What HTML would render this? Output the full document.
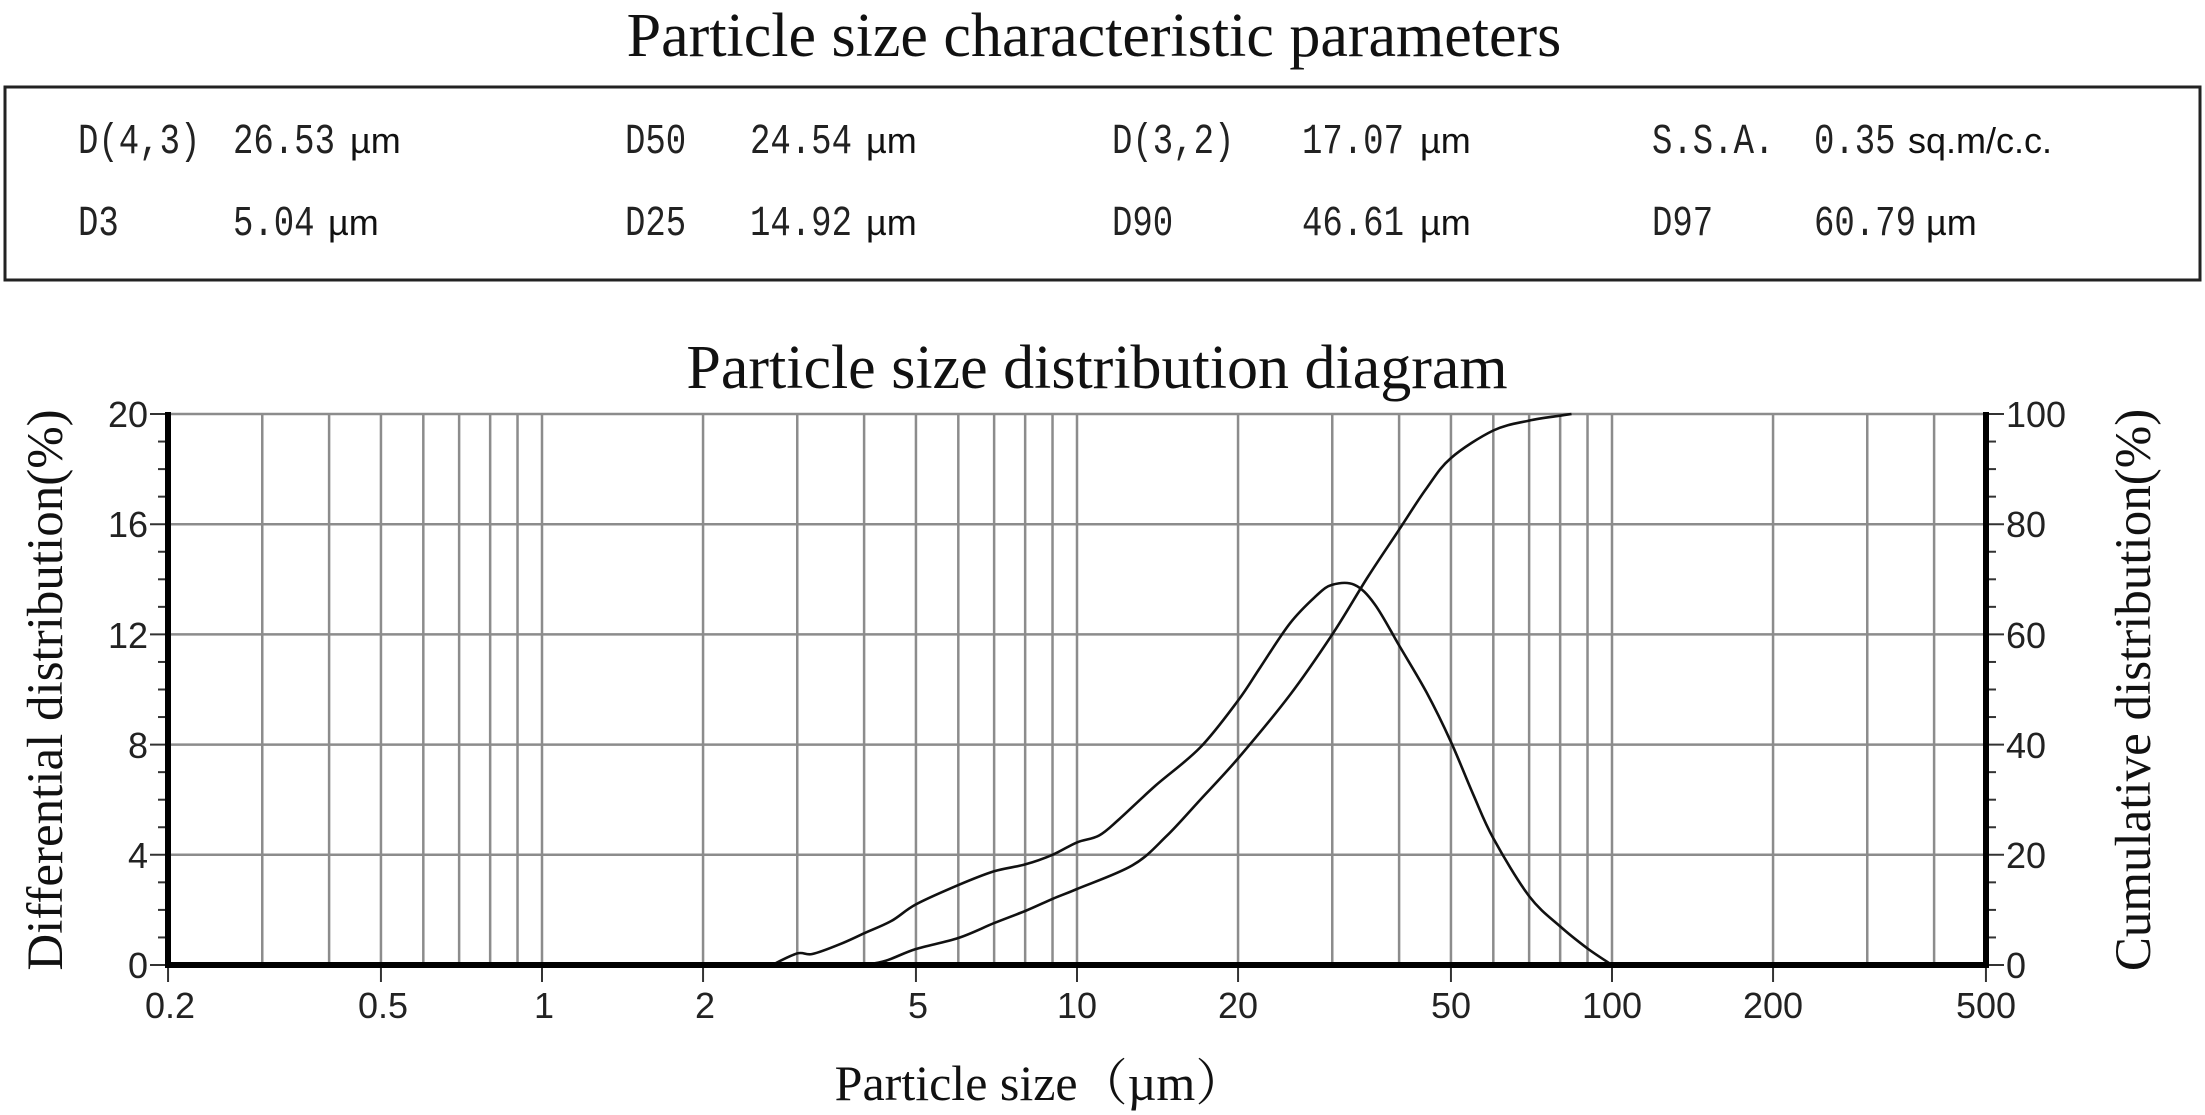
<!DOCTYPE html>
<html><head><meta charset="utf-8">
<style>
html,body{margin:0;padding:0;background:#fff;}
svg{display:block;}
</style></head>
<body>
<svg id="s" width="2205" height="1115" viewBox="0 0 2205 1115" xmlns="http://www.w3.org/2000/svg">
<rect width="2205" height="1115" fill="#fff"/>
<text x="1094" y="56" font-family="Liberation Serif, serif" font-size="62" text-anchor="middle" fill="#111">Particle size characteristic parameters</text>
<rect x="5" y="87" width="2195" height="193" fill="none" stroke="#222" stroke-width="3"/>
<g transform="scale(1,1.25)" font-family="Liberation Mono, monospace" font-size="34" fill="#222">
<text x="78" y="122.4">D(4,3)</text><text x="233" y="122.4">26.53</text>
<text x="625" y="122.4">D50</text><text x="750" y="122.4">24.54</text>
<text x="1112" y="122.4">D(3,2)</text><text x="1302" y="122.4">17.07</text>
<text x="1652" y="122.4">S.S.A.</text><text x="1814" y="122.4">0.35</text>
<text x="78" y="188">D3</text><text x="233" y="188">5.04</text>
<text x="625" y="188">D25</text><text x="750" y="188">14.92</text>
<text x="1112" y="188">D90</text><text x="1302" y="188">46.61</text>
<text x="1652" y="188">D97</text><text x="1814" y="188">60.79</text>
</g>
<g font-family="Liberation Sans, sans-serif" font-size="36" fill="#111">
<text x="350" y="153">µm</text><text x="328" y="235">µm</text>
<text x="866" y="153">µm</text><text x="866" y="235">µm</text>
<text x="1420" y="153">µm</text><text x="1420" y="235">µm</text>
<text x="1908" y="153">sq.m/c.c.</text><text x="1926" y="235">µm</text>
</g>
<text x="1097" y="388" font-family="Liberation Serif, serif" font-size="62" text-anchor="middle" fill="#111">Particle size distribution diagram</text>
<g id="grid" stroke="#8c8c8c" stroke-width="2.5"></g>
<g id="ticks" stroke="#333" stroke-width="2"></g>
<g id="curves" fill="none" stroke="#111" stroke-width="2.6"></g>
<g stroke="#000" stroke-width="6">
<line x1="168" y1="412" x2="168" y2="968"/>
<line x1="1986" y1="412" x2="1986" y2="968"/>
<line x1="165" y1="965" x2="1989" y2="965"/>
</g>
<g font-family="Liberation Sans, sans-serif" font-size="36" fill="#222" text-anchor="end">
<text x="148" y="427">20</text><text x="148" y="537">16</text><text x="148" y="648">12</text>
<text x="148" y="758">8</text><text x="148" y="868">4</text><text x="148" y="978">0</text>
</g>
<g font-family="Liberation Sans, sans-serif" font-size="36" fill="#222">
<text x="2006" y="427">100</text><text x="2006" y="537">80</text><text x="2006" y="648">60</text>
<text x="2006" y="758">40</text><text x="2006" y="868">20</text><text x="2006" y="978">0</text>
</g>
<g font-family="Liberation Sans, sans-serif" font-size="36" fill="#222" text-anchor="middle">
<text x="170" y="1018">0.2</text><text x="383" y="1018">0.5</text><text x="544" y="1018">1</text>
<text x="705" y="1018">2</text><text x="918" y="1018">5</text><text x="1077" y="1018">10</text>
<text x="1238" y="1018">20</text><text x="1451" y="1018">50</text><text x="1612" y="1018">100</text>
<text x="1773" y="1018">200</text><text x="1986" y="1018">500</text>
</g>
<text transform="translate(62,690) rotate(-90)" font-family="Liberation Serif, serif" font-size="51" text-anchor="middle" fill="#111">Differential distribution(%)</text>
<text transform="translate(2150,690) rotate(-90)" font-family="Liberation Serif, serif" font-size="51" text-anchor="middle" fill="#111">Cumulative distribution(%)</text>
<text x="1040" y="1100" font-family="Liberation Serif, 'Noto Serif CJK SC', serif" font-size="50" text-anchor="middle" fill="#111">Particle size（µm）</text>
</svg>
<script>
(function(){
var NS="http://www.w3.org/2000/svg";
function X(v){return 1077+535*Math.log10(v/10);}
function Y(v){return 965-27.55*v;}
function el(p,t,a){var e=document.createElementNS(NS,t);for(var k in a)e.setAttribute(k,a[k]);p.appendChild(e);return e;}
var g=document.getElementById('grid');
var vs=[0.3,0.4,0.5,0.6,0.7,0.8,0.9,1,2,3,4,5,6,7,8,9,10,20,30,40,50,60,70,80,90,100,200,300,400];
vs.forEach(function(v){var x=X(v);el(g,'line',{x1:x,y1:Y(20),x2:x,y2:965});});
[4,8,12,16,20].forEach(function(v){el(g,'line',{x1:168,y1:Y(v),x2:1986,y2:Y(v)});});
var t=document.getElementById('ticks');
for(var i=0;i<=20;i++){var y=Y(i);var major=i%4==0;el(t,'line',{x1:major?150:158,y1:y,x2:168,y2:y});}
for(var i=0;i<=20;i++){var y=Y(i);var major=i%4==0;el(t,'line',{x1:1986,y1:y,x2:major?2004:1996,y2:y});}
[0.2,0.5,1,2,5,10,20,50,100,200,500].forEach(function(v){el(t,'line',{x1:X(v),y1:965,x2:X(v),y2:982});});
function path(pts){
  var P=pts.map(function(p){return [X(p[0]),Y(p[1])];});
  var d="M"+P[0][0].toFixed(1)+","+P[0][1].toFixed(1);
  for(var i=0;i<P.length-1;i++){
    var p0=P[i-1]||P[i],p1=P[i],p2=P[i+1],p3=P[i+2]||P[i+1];
    var c1=[p1[0]+(p2[0]-p0[0])/6,p1[1]+(p2[1]-p0[1])/6];
    var c2=[p2[0]-(p3[0]-p1[0])/6,p2[1]-(p3[1]-p1[1])/6];
    d+=" C"+c1[0].toFixed(1)+","+c1[1].toFixed(1)+" "+c2[0].toFixed(1)+","+c2[1].toFixed(1)+" "+p2[0].toFixed(1)+","+p2[1].toFixed(1);
  }
  return d;
}
var diff=[[2.69,0],[3,0.42],[3.2,0.4],[3.6,0.75],[4,1.15],[4.5,1.6],[5,2.2],[6,2.9],[7,3.4],[8,3.65],[9,4.0],[10,4.45],[11,4.7],[12,5.3],[14,6.5],[17,7.9],[20,9.6],[22,10.8],[25,12.4],[28,13.4],[30,13.8],[33,13.8],[36,13.1],[40,11.6],[45,9.9],[50,8.1],[55,6.2],[60,4.6],[70,2.5],[80,1.4],[90,0.6],[100,0]];
var cum=[[4,0],[4.4,0.8],[5,2.9],[6,4.9],[7,7.6],[8,9.8],[9,12],[10,13.8],[12.7,18.1],[14.7,23.4],[17,30],[20,37.5],[25,49],[30,60],[35,70.5],[40,79],[45,86.5],[50,92],[60,97],[70,98.8],[80,99.7],[84,100]];
var c=document.getElementById('curves');
el(c,'path',{d:path(diff)});
el(c,'path',{d:path(cum.map(function(p){return [p[0],p[1]/5];}))});
})();
</script>
</body></html>
